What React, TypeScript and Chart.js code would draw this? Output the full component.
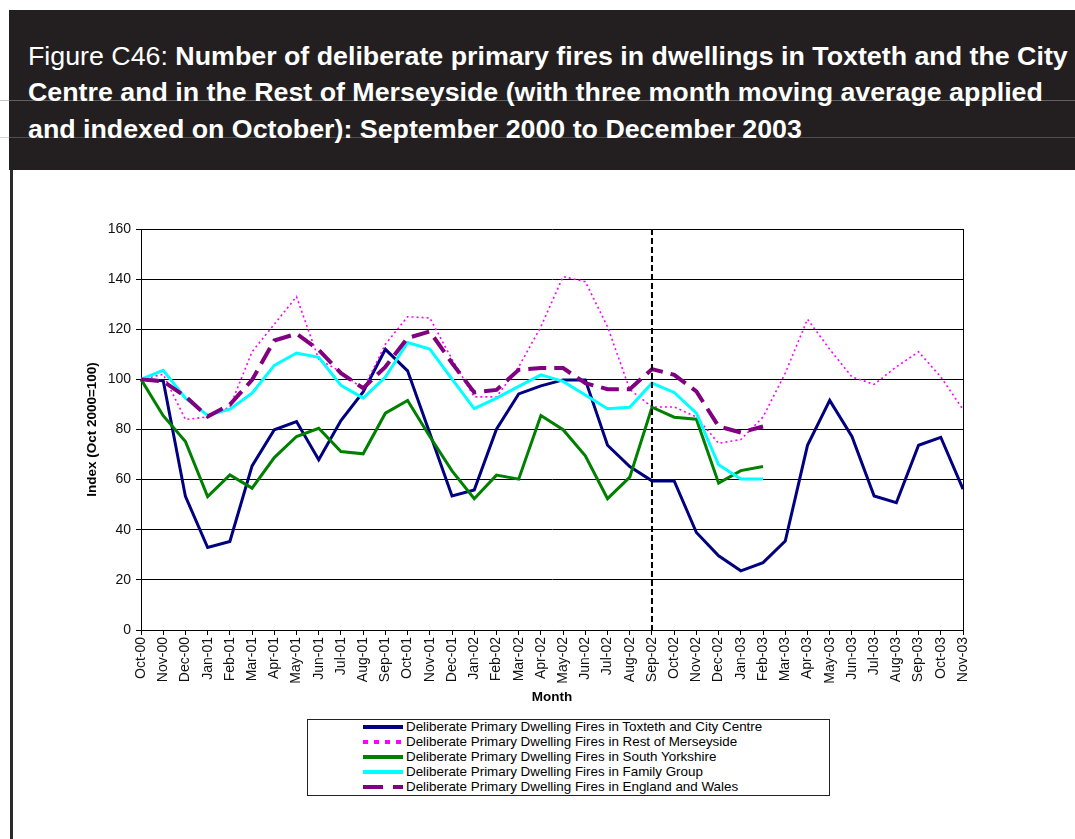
import React, { useEffect, useRef } from "react";
import { Chart, registerables } from "chart.js";

Chart.register(...registerables);

// Months on the category axis
const months = [
  "Oct-00", "Nov-00", "Dec-00", "Jan-01", "Feb-01", "Mar-01", "Apr-01", "May-01",
  "Jun-01", "Jul-01", "Aug-01", "Sep-01", "Oct-01", "Nov-01", "Dec-01", "Jan-02",
  "Feb-02", "Mar-02", "Apr-02", "May-02", "Jun-02", "Jul-02", "Aug-02", "Sep-02",
  "Oct-02", "Nov-02", "Dec-02", "Jan-03", "Feb-03", "Mar-03", "Apr-03", "May-03",
  "Jun-03", "Jul-03", "Aug-03", "Sep-03", "Oct-03", "Nov-03",
];

// Month at which the dashed divider is drawn
const dividerMonth = "Sep-02";

// Index values (Oct 2000 = 100), three month moving average
const toxteth = [
  100, 99.5, 53.3, 32.9, 35.3, 65.5, 79.9, 83.2, 67.9, 83.6, 95, 112, 103.4, 78.5,
  53.5, 55.9, 80.1, 94.2, 97.4, 99.8, 99.8, 73.7, 65.2, 59.5, 59.5, 38.9, 29.6,
  23.6, 26.9, 35.5, 73.7, 91.6, 77.2, 53.5, 50.8, 73.7, 76.9, 56.2,
];
const restOfMerseyside = [
  100, 102, 84, 85, 89, 111, 122, 133, 108, 103, 96, 114, 125, 124.5, 108, 93, 93,
  105, 121, 141, 139, 121, 96, 89, 89, 85, 74.5, 76, 85, 102.5, 124, 112, 101, 98,
  105, 111, 101, 88,
];
const southYorkshire = [
  100, 85.5, 75.2, 53.2, 61.9, 56.6, 68.8, 77.2, 80.5, 71.2, 70.3, 86.5, 91.6, 77.2,
  63.5, 52.4, 61.8, 60.2, 85.6, 79.9, 69.5, 52.4, 61, 88.9, 84.9, 84.1, 58.6, 63.6,
  65.2,
];
const familyGroup = [
  100, 103.6, 92.5, 85.6, 88.1, 94.5, 105.6, 110.5, 108.8, 97.6, 92.5, 100.9, 114.7,
  112.1, 100.1, 88.3, 92.5, 97.2, 101.8, 99.2, 93.8, 88.3, 88.9, 98.5, 94.8, 86.5,
  65.9, 60.2, 60.2,
];
const englandWales = [
  100, 99.2, 93.2, 85.2, 89.9, 99.8, 115.5, 118.2, 111.8, 102.5, 96.5, 105, 116.5,
  119.1, 106.5, 94.8, 95.8, 103.8, 104.5, 104.5, 98.5, 96.1, 96.1, 104.1, 101.8,
  95.2, 81.2, 78.8, 81.2,
];

const seriesNames = [
  "Deliberate Primary Dwelling Fires in Toxteth and City Centre",
  "Deliberate Primary Dwelling Fires in Rest of Merseyside",
  "Deliberate Primary Dwelling Fires in South Yorkshire",
  "Deliberate Primary Dwelling Fires in Family Group",
  "Deliberate Primary Dwelling Fires in England and Wales",
];

const yTicks = [0, 20, 40, 60, 80, 100, 120, 140, 160];

type Style = { color: string; width: number; dash: number[]; legendDash: number[] };
const styles: Style[] = [
  { color: "#000080", width: 3, dash: [], legendDash: [] },
  { color: "#FF00FF", width: 1.6, dash: [2, 3], legendDash: [5, 6] },
  { color: "#008000", width: 3, dash: [], legendDash: [] },
  { color: "#00FFFF", width: 3, dash: [], legendDash: [] },
  { color: "#800080", width: 4, dash: [18, 8], legendDash: [20, 10] },
];

const pad = (arr: number[]) =>
  months.map((_, i) => (i < arr.length ? arr[i] : null));

const FONT = "'Liberation Sans', Arial, Helvetica, sans-serif";

const framePlugin = {
  id: "frameAndDivider",
  afterDatasetsDraw(chart: any) {
    const { ctx, chartArea: a, scales } = chart;
    ctx.save();
    // right-hand border of the plot area
    ctx.strokeStyle = "#000";
    ctx.lineWidth = 1;
    ctx.beginPath();
    ctx.moveTo(Math.round(a.right) + 0.5, a.top);
    ctx.lineTo(Math.round(a.right) + 0.5, a.bottom);
    ctx.stroke();
    // dashed divider
    const px = scales.x.getPixelForValue(months.indexOf(dividerMonth));
    ctx.lineWidth = 2;
    ctx.setLineDash([6, 3]);
    ctx.beginPath();
    ctx.moveTo(px, a.top);
    ctx.lineTo(px, a.bottom + 4);
    ctx.stroke();
    ctx.restore();
  },
};

function LegendSwatch({ s }: { s: Style }) {
  return (
    <svg width={40} height={8} style={{ display: "block" }}>
      <line
        x1={0}
        y1={4}
        x2={40}
        y2={4}
        stroke={s.color}
        strokeWidth={4}
        strokeDasharray={s.legendDash.length ? s.legendDash.join(",") : undefined}
      />
    </svg>
  );
}

export default function App() {
  const canvasRef = useRef<HTMLCanvasElement | null>(null);

  useEffect(() => {
    const canvas = canvasRef.current;
    if (!canvas) return;
    const values = [toxteth, restOfMerseyside, southYorkshire, familyGroup, englandWales];
    const chart = new Chart(canvas, {
      type: "line",
      data: {
        labels: months,
        datasets: values.map((v, i) => ({
          label: seriesNames[i],
          data: pad(v),
          borderColor: styles[i].color,
          backgroundColor: styles[i].color,
          borderWidth: styles[i].width,
          borderDash: styles[i].dash,
          pointRadius: 0,
          tension: 0,
          fill: false,
          spanGaps: false,
          order: 5 - i,
        })),
      },
      options: {
        responsive: false,
        animation: false,
        events: [],
        layout: { padding: { left: 76, right: 112, top: 229, bottom: 129 } },
        plugins: { legend: { display: false }, tooltip: { enabled: false } },
        scales: {
          x: {
            type: "category",
            offset: false,
            afterFit: (s: any) => {
              s.height = 80;
            },
            grid: {
              drawOnChartArea: false,
              drawTicks: true,
              tickLength: 5,
              color: "#000",
            },
            border: { display: true, color: "#000", width: 1 },
            ticks: {
              autoSkip: false,
              maxRotation: 90,
              minRotation: 90,
              padding: 2,
              color: "#111",
              font: { family: FONT, size: 14 },
            },
            title: {
              display: true,
              text: "Month",
              color: "#000",
              font: { family: FONT, size: 13.5, weight: "bold" },
              padding: { top: 0, bottom: 5 },
            },
          },
          y: {
            min: 0,
            max: 160,
            afterFit: (s: any) => {
              s.width = 65;
            },
            afterBuildTicks: (s: any) => {
              s.ticks = yTicks.map((v) => ({ value: v }));
            },
            grid: { color: "#000", lineWidth: 1, tickLength: 5, drawTicks: true },
            border: { display: true, color: "#000", width: 1 },
            ticks: {
              padding: 5,
              color: "#111",
              font: { family: FONT, size: 14 },
            },
            title: {
              display: true,
              text: "Index (Oct 2000=100)",
              color: "#000",
              font: { family: FONT, size: 13.5, weight: "bold" },
              padding: { top: 8, bottom: 0 },
            },
          },
        },
      },
      plugins: [framePlugin],
    });
    return () => chart.destroy();
  }, []);

  const titleFont = "'Liberation Sans Narrow', 'Arial Narrow', 'Liberation Sans', Arial, sans-serif";
  const titleLine: React.CSSProperties = {
    position: "absolute",
    left: 28,
    whiteSpace: "nowrap",
    color: "#fff",
    fontFamily: titleFont,
    fontSize: 26,
    lineHeight: "36.6px",
    fontWeight: "bold",
    transform: "scaleX(1.03)",
    transformOrigin: "0 50%",
  };

  return (
    <div
      style={{
        position: "absolute",
        left: 0,
        top: 0,
        width: 1075,
        height: 839,
        background: "#fff",
        overflow: "hidden",
      }}
    >
      {/* header band */}
      <div
        style={{
          position: "absolute",
          left: 9,
          top: 10,
          width: 1066,
          height: 160,
          background: "#231f20",
        }}
      />
      <div style={{ position: "absolute", left: 0, top: 100, width: 1075, height: 1, background: "rgba(150,150,150,0.55)" }} />
      <div style={{ position: "absolute", left: 0, top: 137, width: 1075, height: 1, background: "rgba(150,150,150,0.4)" }} />
      <div style={{ ...titleLine, top: 37.7 }}>
        <span style={{ fontWeight: "normal" }}>Figure C46: </span>
        Number of deliberate primary fires in dwellings in Toxteth and the City
      </div>
      <div style={{ ...titleLine, top: 74.3 }}>
        Centre and in the Rest of Merseyside (with three month moving average applied
      </div>
      <div style={{ ...titleLine, top: 110.9 }}>
        and indexed on October): September 2000 to December 2003
      </div>
      {/* left rule */}
      <div style={{ position: "absolute", left: 10, top: 170, width: 3, height: 669, background: "#2a2a2a" }} />

      <canvas
        ref={canvasRef}
        width={1075}
        height={839}
        style={{ position: "absolute", left: 0, top: 0, width: 1075, height: 839 }}
      />

      {/* legend */}
      <div
        style={{
          position: "absolute",
          left: 307,
          top: 719,
          width: 521,
          height: 75,
          border: "1px solid #222",
          background: "#fff",
        }}
      >
        {seriesNames.map((name, i) => (
          <div
            key={name}
            style={{
              position: "absolute",
              left: 55,
              top: -1 + i * 15,
              height: 15,
              display: "flex",
              alignItems: "center",
              whiteSpace: "nowrap",
              fontFamily: FONT,
              fontSize: 13.4,
              color: "#000",
            }}
          >
            <LegendSwatch s={styles[i]} />
            <span style={{ marginLeft: 3 }}>{name}</span>
          </div>
        ))}
      </div>
    </div>
  );
}
